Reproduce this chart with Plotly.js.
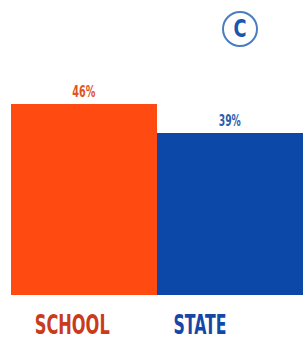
<!DOCTYPE html>
<html>
<head>
<meta charset="utf-8">
<script src="https://cdn.plot.ly/plotly-3.0.1.min.js"></script>
<style>html,body{margin:0;padding:0;background:#fff;}#chart{width:304px;height:341px;}</style>
</head>
<body>
<div id="chart"></div>
<script>
const categories = ["SCHOOL", "STATE"];
const values = [46, 39];
const valueLabels = ["46%", "39%"];
const barColors = ["#ff4b12", "#0c48a8"];
const valueLabelColors = ["#e0531f", "#2b5cae"];
const categoryLabelColors = ["#c93b1b", "#1547a6"];
const panelLetter = "C";

const FONT = "'DejaVu Sans Condensed', 'Liberation Sans Narrow', 'DejaVu Sans', sans-serif";

const trace = {
  type: "bar",
  x: categories,
  y: values,
  marker: { color: barColors, line: { width: 0 } },
  text: valueLabels,
  textposition: "outside",
  cliponaxis: false,
  textfont: { family: FONT, size: 15, color: valueLabelColors, weight: "bold" },
  hoverinfo: "none"
};

const catShifts = [-12, -30];
const annotations = categories.map((c, i) => ({
  x: c, y: 0, xref: "x", yref: "y",
  text: c, showarrow: false,
  yanchor: "middle", xanchor: "center",
  xshift: catShifts[i], yshift: -29.5,
  font: { family: FONT, size: 27, color: categoryLabelColors[i], weight: "bold" }
}));
annotations.push({
  xref: "paper", yref: "paper", x: 240/304, y: 1 - (29-10)/285,
  text: panelLetter, showarrow: false, xanchor: "center", yanchor: "middle",
  font: { family: FONT, size: 24, color: "#1a56ae", weight: "bold" }
});

const layout = {
  width: 304, height: 341,
  margin: { l: 0, r: 0, t: 10, b: 46 },
  paper_bgcolor: "#ffffff", plot_bgcolor: "#ffffff",
  bargap: 0,
  showlegend: false,
  xaxis: { range: [-0.5753, 1.5068], showticklabels: false, showgrid: false, zeroline: false, showline: false, ticks: "", fixedrange: true },
  yaxis: { range: [0, 68.6], visible: false, showgrid: false, zeroline: false, fixedrange: true },
  annotations: annotations,
  shapes: [{
    type: "circle", xref: "paper", yref: "paper",
    xsizemode: "pixel", ysizemode: "pixel",
    xanchor: 240/304, yanchor: 1 - (29-10)/285,
    x0: -17, x1: 17, y0: -17, y1: 17,
    line: { color: "#4a7cc0", width: 2 }, fillcolor: "rgba(0,0,0,0)"
  }]
};

Plotly.newPlot("chart", [trace], layout, { staticPlot: true, displayModeBar: false }).then(() => {
  const lengths = { "SCHOOL": 75, "STATE": 53, "46%": 23, "39%": 22, "C": 13 };
  document.querySelectorAll("#chart text").forEach(t => {
    const s = t.textContent.trim();
    if (lengths[s]) {
      t.setAttribute("textLength", lengths[s]);
      t.setAttribute("lengthAdjust", "spacingAndGlyphs");
    }
  });
});
</script>
</body>
</html>
